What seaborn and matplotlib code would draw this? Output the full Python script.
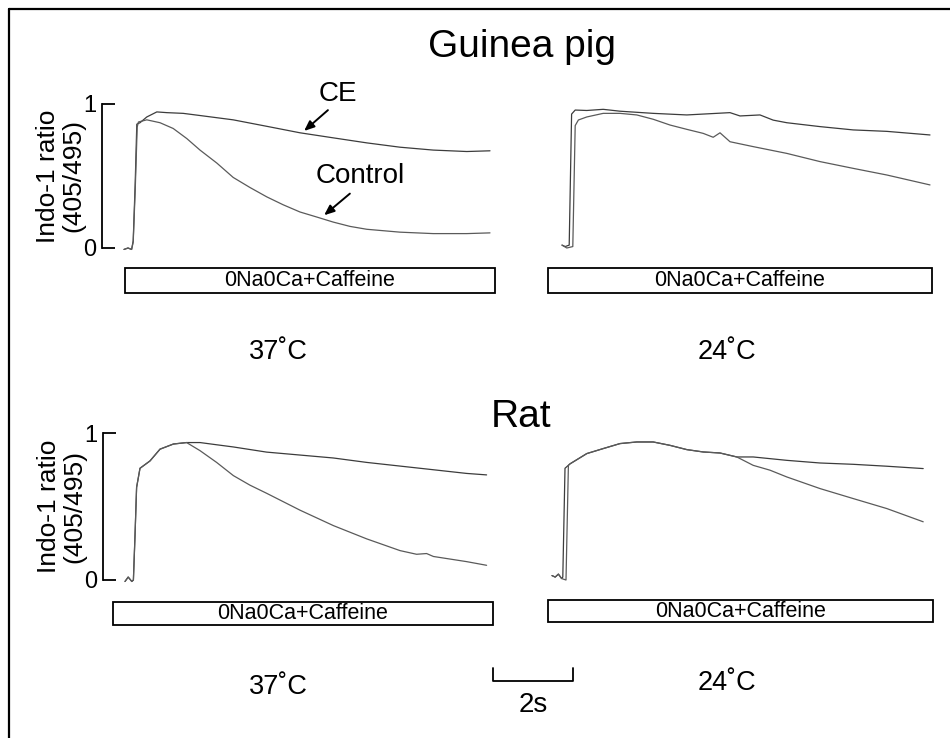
import numpy as np
import pandas as pd
import seaborn as sns
import matplotlib.pyplot as plt
from matplotlib.patches import Rectangle
from matplotlib.lines import Line2D

# ---------------- data (time in s, Indo-1 ratio normalised 0..1) ----------------
gp37_ce_t = [0.0, 0.1, 0.19, 0.23, 0.28, 0.32, 0.40, 0.57, 0.82, 1.07, 1.48, 1.9, 2.73, 3.57,
             4.4, 5.23, 6.07, 6.9, 7.73, 8.57, 9.15]
gp37_ce_r = [-0.01, 0.0, -0.01, 0.05, 0.45, 0.86, 0.87, 0.91, 0.945, 0.94, 0.935, 0.92, 0.89, 0.845,
             0.80, 0.765, 0.73, 0.70, 0.68, 0.67, 0.675]
gp37_ct_t = [0.0, 0.1, 0.19, 0.23, 0.28, 0.33, 0.36, 0.57, 0.9, 1.23, 1.57, 1.9, 2.32, 2.73, 3.15,
             3.57, 3.98, 4.4, 4.82, 5.23, 5.65, 6.07, 6.9, 7.73, 8.57, 9.15]
gp37_ct_r = [-0.01, 0.0, -0.01, 0.04, 0.40, 0.84, 0.875, 0.89, 0.87, 0.83, 0.76, 0.68, 0.59, 0.49, 0.42,
             0.355, 0.30, 0.25, 0.215, 0.18, 0.15, 0.13, 0.11, 0.10, 0.10, 0.105]

gp24_ce_t = [0.0, 0.08, 0.18, 0.24, 0.33, 0.62, 1.03, 1.45, 2.28, 3.12, 4.2, 4.45, 4.95, 5.28,
             5.62, 6.45, 7.28, 8.12, 9.2]
gp24_ce_r = [0.02, 0.01, 0.02, 0.93, 0.958, 0.955, 0.963, 0.95, 0.935, 0.924, 0.94, 0.917, 0.924, 0.888,
             0.87, 0.843, 0.82, 0.81, 0.785]
gp24_ct_t = [0.0, 0.12, 0.27, 0.33, 0.41, 0.62, 1.03, 1.45, 1.87, 2.28, 2.7, 3.12, 3.53, 3.78, 3.95,
             4.2, 4.78, 5.62, 6.45, 7.28, 8.12, 9.2]
gp24_ct_r = [0.02, 0.0, 0.01, 0.85, 0.889, 0.91, 0.935, 0.935, 0.924, 0.894, 0.854, 0.824, 0.796, 0.769, 0.80,
             0.738, 0.704, 0.657, 0.60, 0.553, 0.507, 0.438]

rat37_ce_t = [0.0, 0.08, 0.17, 0.21, 0.25, 0.29, 0.375, 0.625, 0.875, 1.21, 1.54, 1.875, 2.29, 2.71,
              3.54, 4.375, 5.21, 6.04, 6.875, 7.71, 8.54, 9.04]
rat37_ce_r = [-0.01, 0.02, -0.01, 0.0, 0.3, 0.63, 0.76, 0.81, 0.89, 0.925, 0.935, 0.935, 0.92, 0.905,
              0.87, 0.85, 0.83, 0.80, 0.775, 0.75, 0.725, 0.715]
rat37_ct_t = [0.0, 0.08, 0.17, 0.21, 0.25, 0.29, 0.375, 0.625, 0.875, 1.21, 1.54, 1.875, 2.29, 2.71,
              3.125, 3.54, 4.375, 5.21, 6.04, 6.875, 7.29, 7.54, 7.71, 8.54, 9.04]
rat37_ct_r = [-0.01, 0.02, -0.01, 0.0, 0.3, 0.63, 0.76, 0.81, 0.89, 0.925, 0.935, 0.88, 0.80, 0.71,
              0.645, 0.59, 0.475, 0.37, 0.28, 0.20, 0.175, 0.18, 0.16, 0.125, 0.10]

rat24_ce_t = [0.0, 0.08, 0.16, 0.24, 0.27, 0.325, 0.45, 0.87, 1.28, 1.7, 2.12, 2.53, 2.95, 3.37, 3.78,
              4.2, 4.62, 5.03, 5.87, 6.7, 7.53, 8.37, 9.28]
rat24_ce_r = [0.03, 0.02, 0.04, 0.01, 0.02, 0.76, 0.79, 0.86, 0.894, 0.928, 0.939, 0.939, 0.916, 0.887, 0.871,
              0.864, 0.837, 0.837, 0.814, 0.796, 0.787, 0.774, 0.758]
rat24_ct_t = [0.0, 0.08, 0.16, 0.24, 0.35, 0.41, 0.45, 0.87, 1.28, 1.7, 2.12, 2.53, 2.95, 3.37, 3.78,
              4.2, 4.62, 5.03, 5.45, 5.87, 6.7, 7.53, 8.37, 9.28]
rat24_ct_r = [0.03, 0.02, 0.04, 0.01, 0.0, 0.78, 0.79, 0.86, 0.894, 0.928, 0.939, 0.939, 0.916, 0.887, 0.871,
              0.864, 0.837, 0.78, 0.747, 0.701, 0.622, 0.554, 0.486, 0.396]

# stimulus bars (start, end in s)
stim_gp37 = (0.02, 9.27)
stim_gp24 = (-0.35, 9.25)
stim_rat37 = (-0.3, 9.2)
stim_rat24 = (-0.1, 9.53)
stim_label = "0Na0Ca+Caffeine"
scalebar_s = 2
temps = ["37˚C", "24˚C"]
species = ["Guinea pig", "Rat"]
ytick_vals = [0, 1]
ytick_labels = ["0", "1"]

# ---------------- style ----------------
sns.set_style("white")
plt.rcParams['font.family'] = ['Liberation Sans', 'DejaVu Sans']
plt.rcParams['text.color'] = 'black'
plt.rcParams['axes.labelcolor'] = 'black'
plt.rcParams['xtick.color'] = 'black'
plt.rcParams['ytick.color'] = 'black'

W, H = 950, 738
PX_PER_S = 40
fig = plt.figure(figsize=(W / 100, H / 100), dpi=100)

def px(x, y):
    return x / W, 1 - y / H

def add_ax(t0_px, y0_px, y1_px, xlim, ylim):
    ppu = y0_px - y1_px
    left = t0_px + xlim[0] * PX_PER_S
    width = (xlim[1] - xlim[0]) * PX_PER_S
    top = y1_px - (ylim[1] - 1) * ppu
    bottom = y0_px - ylim[0] * ppu
    ax = fig.add_axes([left / W, 1 - bottom / H, width / W, (bottom - top) / H])
    ax.set_xlim(*xlim)
    ax.set_ylim(*ylim)
    ax.patch.set_alpha(0)
    for s in ax.spines.values():
        s.set_visible(False)
    ax.set_xticks([])
    ax.set_yticks([])
    return ax

YL = (-0.1, 1.1)
ax_gp37 = add_ax(124, 248, 104, (-0.55, 9.6), YL)
ax_gp24 = add_ax(562, 248, 104, (-0.5, 9.6), YL)
ax_r37 = add_ax(125, 580, 433, (-0.55, 9.6), YL)
ax_r24 = add_ax(552, 580, 433, (-0.2, 9.6), YL)

C_CE = '#3c3c3c'
C_CT = '#5a5a5a'
LW = 0.9

def trace(ax, t, r, color):
    df = pd.DataFrame({'t': t, 'r': r})
    sns.lineplot(data=df, x='t', y='r', ax=ax, color=color, linewidth=LW,
                 estimator=None, sort=False)
    ax.set_xlabel('')
    ax.set_ylabel('')

trace(ax_gp37, gp37_ce_t, gp37_ce_r, C_CE)
trace(ax_gp37, gp37_ct_t, gp37_ct_r, C_CT)
trace(ax_gp24, gp24_ce_t, gp24_ce_r, C_CE)
trace(ax_gp24, gp24_ct_t, gp24_ct_r, C_CT)
trace(ax_r37, rat37_ce_t, rat37_ce_r, C_CE)
trace(ax_r37, rat37_ct_t, rat37_ct_r, C_CT)
trace(ax_r24, rat24_ce_t, rat24_ce_r, C_CE)
trace(ax_r24, rat24_ct_t, rat24_ct_r, C_CT)

# y-axis brackets
for ax in [ax_gp37, ax_r37]:
    ax.spines['left'].set_visible(True)
    ax.spines['left'].set_bounds(0, 1)
    ax.spines['left'].set_linewidth(1.3)
    ax.spines['left'].set_color('black')
    ax.set_yticks(ytick_vals)
    ax.set_yticklabels(ytick_labels)
    ax.tick_params(axis='y', direction='in', length=9.4, width=1.3, pad=4,
                   labelsize=17, colors='black', left=True)
    ax.set_ylabel("Indo-1 ratio\n(405/495)", fontsize=19, linespacing=1.05,
                  color='black', visible=True)
    ax.yaxis.set_label_coords(-17 / ((ax.get_xlim()[1] - ax.get_xlim()[0]) * PX_PER_S),
                              (0.5 - YL[0]) / (YL[1] - YL[0]))

# stimulus boxes
def stim(ax, span, r0, r1):
    ax.add_patch(Rectangle((span[0], r1), span[1] - span[0], r0 - r1, fill=False,
                           edgecolor='black', linewidth=1.3, clip_on=False))
    ax.text((span[0] + span[1]) / 2, (r0 + r1) / 2, stim_label, ha='center', va='center',
            fontsize=15.5, clip_on=False)

stim(ax_gp37, stim_gp37, -0.139, -0.3125)
stim(ax_gp24, stim_gp24, -0.139, -0.3125)
stim(ax_r37, stim_rat37, -0.15, -0.306)
stim(ax_r24, stim_rat24, -0.136, -0.286)

# arrows and labels
ax_gp37.text(5.35, 1.07, "CE", ha='center', va='center', fontsize=20)
ax_gp37.annotate('', xy=(4.45, 0.80), xytext=(5.15, 0.97),
                 arrowprops=dict(arrowstyle='-|>,head_length=0.6,head_width=0.25',
                                 color='black', lw=1.4))
ax_gp37.text(5.9, 0.5, "Control", ha='center', va='center', fontsize=20)
ax_gp37.annotate('', xy=(4.95, 0.215), xytext=(5.7, 0.39),
                 arrowprops=dict(arrowstyle='-|>,head_length=0.6,head_width=0.25',
                                 color='black', lw=1.4))

# temperature labels
for (x, y), t in zip([(278, 352), (727, 352)], temps):
    fig.text(*px(x, y), t, ha='center', va='center', fontsize=19.5)
for (x, y), t in zip([(278, 687), (727, 683)], temps):
    fig.text(*px(x, y), t, ha='center', va='center', fontsize=19.5)

# species titles
fig.text(*px(522, 57), species[0], ha='center', va='baseline', fontsize=28)
fig.text(*px(521, 427), species[1], ha='center', va='baseline', fontsize=28)

# time scale bar (in rat 37 axes time units)
sb0 = 9.2
ax_r37.plot([sb0, sb0, sb0 + scalebar_s, sb0 + scalebar_s], [-0.6, -0.687, -0.687, -0.6],
            color='black', lw=1.3, clip_on=False)
ax_r37.text(sb0 + scalebar_s / 2, -0.85, f"{scalebar_s}s", ha='center', va='center', fontsize=20)

# figure frame (left and top)
fig.add_artist(Line2D([8.5 / W, 8.5 / W], [0, 1 - 8.5 / H], transform=fig.transFigure,
                      color='black', lw=1.6))
fig.add_artist(Line2D([8.5 / W, 1], [1 - 8.5 / H, 1 - 8.5 / H], transform=fig.transFigure,
                      color='black', lw=1.6))

fig.savefig("out.png", dpi=100)
